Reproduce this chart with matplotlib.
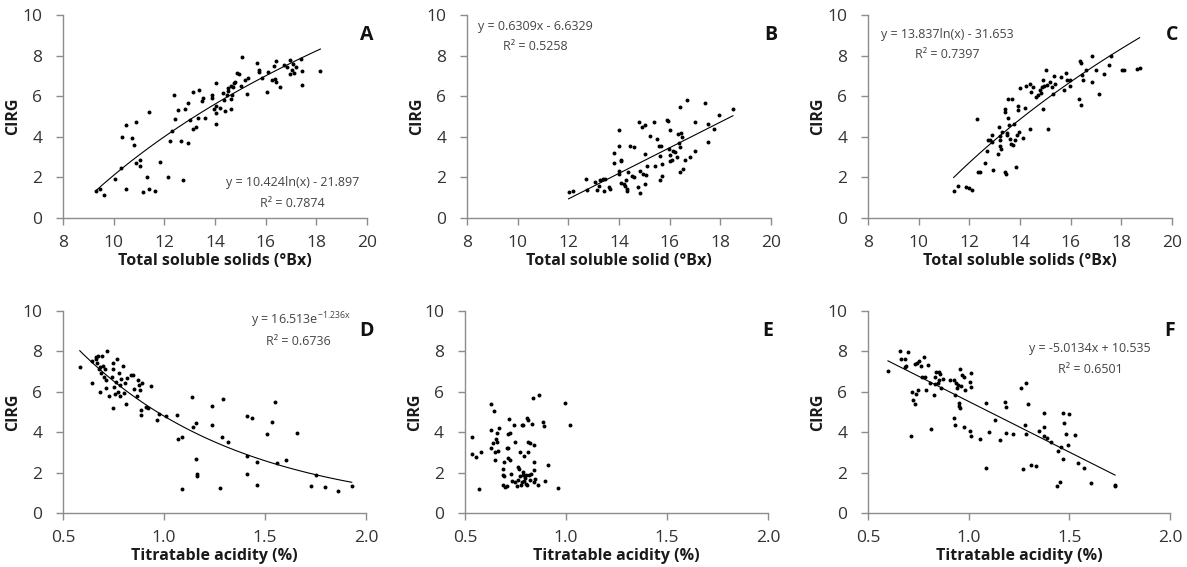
import numpy as np
import matplotlib
matplotlib.use("Agg")
import matplotlib.pyplot as plt

plt.rcParams['font.family'] = ['Open Sans', 'DejaVu Sans']
plt.rcParams['mathtext.fontset'] = 'custom'
plt.rcParams['mathtext.rm'] = 'Open Sans'
plt.rcParams['mathtext.it'] = 'Open Sans'

# ---- data ----
a_x = [9.32, 9.45, 9.62, 10.04, 10.33, 10.47, 10.47, 10.73, 10.8, 10.9, 10.9, 11.03, 11.03, 11.14,
       11.3, 11.41, 11.41, 11.64, 11.83, 12.14, 12.24, 12.29, 12.4, 12.42, 12.52, 12.66, 12.75, 12.82,
       12.92, 12.92, 13.0, 13.12, 13.12, 13.25, 13.34, 13.38, 13.47, 13.54, 13.6, 13.87, 13.87, 13.94,
       14.04, 14.04, 14.04, 14.04, 14.2, 14.33, 14.36, 14.4, 14.46, 14.53, 14.62, 14.62, 14.62, 14.7,
       14.73, 14.79, 14.86, 14.93, 15.02, 15.06, 15.19, 15.26, 15.32, 15.65, 15.74, 15.74, 15.85, 16.05,
       16.11, 16.25, 16.34, 16.38, 16.42, 16.42, 16.55, 16.73, 16.84, 16.94, 16.94, 17.04, 17.08, 17.1,
       17.2, 17.4, 17.43, 17.43, 18.16, 14.5, 14.68, 10.3]
a_y = [1.31, 1.43, 1.15, 1.93, 4.0, 4.56, 1.43, 3.93, 3.6, 4.75, 2.7, 2.87, 2.57, 1.26,
       2.0, 5.2, 1.43, 1.31, 2.74, 2.0, 3.77, 4.3, 6.07, 4.87, 5.33, 3.77, 1.89, 5.38,
       5.66, 3.69, 4.84, 6.23, 4.39, 4.5, 4.92, 6.31, 5.74, 5.93, 4.95, 6.07, 5.93, 5.36,
       6.64, 5.52, 5.16, 4.64, 5.41, 6.18, 5.82, 5.28, 6.07, 6.39, 6.51, 5.87, 5.38, 6.44,
       6.64, 6.72, 7.13, 7.1, 6.48, 7.95, 6.8, 6.11, 6.89, 7.66, 7.3, 7.21, 6.92, 6.23,
       7.21, 6.8, 7.51, 6.85, 7.74, 6.72, 6.44, 7.54, 7.46, 7.79, 7.08, 7.3, 7.57, 7.13,
       7.46, 7.82, 7.25, 6.56, 7.25, 6.25, 6.05, 2.45]

b_x = [12.01, 12.18, 12.7, 12.74, 13.07, 13.13, 13.2, 13.26, 13.36, 13.39, 13.46, 13.59, 13.63, 13.79,
       13.79, 13.99, 13.99, 13.99, 14.01, 14.08, 14.08, 14.18, 14.25, 14.29, 14.32, 14.32, 14.36, 14.42,
       14.51, 14.58, 14.61, 14.74, 14.8, 14.82, 14.84, 14.91, 14.95, 15.01, 15.01, 15.04, 15.08, 15.11,
       15.24, 15.39, 15.41, 15.5, 15.57, 15.61, 15.63, 15.66, 15.7, 15.7, 15.89, 15.93, 15.96, 16.0,
       16.03, 16.09, 16.13, 16.22, 16.29, 16.32, 16.36, 16.39, 16.42, 16.42, 16.46, 16.49, 16.53, 16.62,
       16.68, 16.82, 16.99, 16.99, 17.41, 17.5, 17.5, 17.76, 17.93, 18.5, 16.0, 14.1]
b_y = [1.27, 1.32, 1.9, 1.4, 1.76, 1.38, 1.6, 1.85, 1.9, 1.32, 1.93, 1.52, 1.43, 3.2,
       2.7, 4.32, 3.54, 2.34, 2.17, 2.87, 1.71, 1.68, 1.6, 1.85, 1.43, 1.32, 2.26, 3.57,
       2.09, 3.49, 2.01, 1.55, 4.73, 1.24, 2.31, 4.48, 2.17, 4.6, 1.68, 3.13, 2.14, 2.54,
       4.02, 4.73, 2.54, 3.9, 3.54, 1.85, 3.05, 3.53, 2.67, 2.09, 4.81, 4.78, 3.41, 3.08,
       2.83, 2.87, 3.29, 3.25, 3.03, 4.12, 3.69, 3.49, 5.47, 2.26, 4.18, 3.99, 2.42, 2.87,
       5.83, 3.03, 4.73, 3.28, 5.68, 4.65, 3.74, 4.37, 5.06, 5.39, 4.32, 2.82]

c_x = [11.38, 11.54, 11.88, 12.0, 12.1, 12.3, 12.33, 12.41, 12.63, 12.7, 12.72, 12.83, 12.89, 12.89,
       12.93, 13.12, 13.16, 13.2, 13.22, 13.22, 13.25, 13.29, 13.39, 13.39, 13.42, 13.46, 13.49, 13.49,
       13.51, 13.51, 13.55, 13.59, 13.64, 13.68, 13.72, 13.78, 13.82, 13.84, 13.88, 13.91, 13.91, 13.95,
       13.99, 14.12, 14.21, 14.25, 14.41, 14.41, 14.45, 14.51, 14.64, 14.71, 14.78, 14.83, 14.87, 14.91,
       14.91, 14.96, 15.04, 15.07, 15.09, 15.17, 15.26, 15.29, 15.33, 15.39, 15.62, 15.75, 15.83, 15.86,
       15.96, 15.96, 16.32, 16.36, 16.39, 16.42, 16.45, 16.49, 16.62, 16.84, 16.84, 17.01, 17.11, 17.3,
       17.5, 17.59, 18.03, 18.12, 18.62, 18.72]
c_y = [1.32, 1.57, 1.52, 1.47, 1.38, 4.89, 2.26, 2.29, 2.7, 3.28, 3.82, 3.82, 4.07, 3.74,
       2.37, 3.13, 4.48, 3.85, 4.02, 3.57, 3.38, 4.23, 5.39, 5.22, 2.26, 2.17, 4.18, 4.07,
       4.94, 5.88, 4.56, 3.9, 3.66, 5.88, 3.62, 4.64, 3.82, 2.5, 4.07, 5.5, 5.3, 4.23,
       6.41, 3.95, 5.44, 6.49, 4.4, 6.59, 6.21, 6.44, 5.96, 6.05, 6.29, 6.16, 6.44, 6.79,
       5.39, 6.49, 7.31, 6.54, 4.4, 6.71, 6.46, 6.13, 6.99, 6.62, 6.95, 6.33, 7.12, 6.82,
       6.82, 6.49, 5.88, 7.74, 7.64, 5.55, 7.03, 6.82, 7.28, 7.97, 6.71, 7.31, 6.1, 7.08,
       7.53, 7.97, 7.31, 7.31, 7.36, 7.41]

d_x = [0.583, 0.645, 0.645, 0.662, 0.665, 0.668, 0.673, 0.677, 0.682, 0.685, 0.69, 0.695, 0.698, 0.702,
       0.707, 0.711, 0.715, 0.72, 0.728, 0.74, 0.745, 0.745, 0.745, 0.751, 0.756, 0.764, 0.768, 0.773,
       0.777, 0.781, 0.784, 0.789, 0.797, 0.801, 0.806, 0.81, 0.819, 0.834, 0.844, 0.85, 0.864, 0.872,
       0.877, 0.883, 0.888, 0.888, 0.893, 0.913, 0.921, 0.933, 0.966, 0.976, 1.012, 1.065, 1.07, 1.09,
       1.09, 1.136, 1.141, 1.158, 1.158, 1.165, 1.165, 1.238, 1.238, 1.276, 1.285, 1.29, 1.318, 1.409,
       1.412, 1.412, 1.437, 1.458, 1.461, 1.508, 1.532, 1.549, 1.557, 1.604, 1.656, 1.726, 1.752, 1.797,
       1.863, 1.929]
d_y = [7.22, 7.53, 6.43, 7.71, 7.61, 7.41, 7.78, 7.12, 6.01, 7.22, 6.92, 7.78, 7.28, 6.75,
       7.12, 6.18, 6.59, 8.02, 5.8, 6.75, 7.45, 7.12, 5.22, 6.26, 5.9, 6.51, 7.63, 6.01,
       6.95, 6.34, 5.77, 6.62, 7.3, 5.93, 6.46, 5.39, 6.67, 6.84, 6.84, 6.13, 5.8, 6.59,
       6.34, 6.1, 4.86, 5.11, 6.43, 5.27, 5.19, 6.29, 4.58, 4.89, 4.78, 4.86, 3.66, 3.74,
       1.19, 5.72, 4.25, 4.45, 2.69, 1.94, 1.85, 5.32, 4.37, 1.24, 3.74, 5.63, 3.54, 4.81,
       2.83, 1.94, 4.7, 1.37, 2.52, 3.92, 4.53, 5.5, 2.47, 2.6, 3.95, 1.35, 1.86, 1.27,
       1.07, 1.35]

e_x = [0.533, 0.533, 0.554, 0.571, 0.577, 0.627, 0.627, 0.627, 0.64, 0.645, 0.648, 0.651, 0.656, 0.661,
       0.665, 0.668, 0.661, 0.686, 0.686, 0.69, 0.693, 0.694, 0.698, 0.706, 0.709, 0.711, 0.714, 0.714,
       0.719, 0.722, 0.725, 0.727, 0.731, 0.742, 0.747, 0.747, 0.759, 0.764, 0.764, 0.769, 0.772, 0.772,
       0.775, 0.78, 0.783, 0.785, 0.785, 0.788, 0.792, 0.792, 0.797, 0.802, 0.802, 0.805, 0.808, 0.81,
       0.81, 0.813, 0.816, 0.821, 0.821, 0.826, 0.833, 0.838, 0.841, 0.841, 0.841, 0.843, 0.846, 0.863,
       0.868, 0.887, 0.891, 0.896, 0.909, 0.96, 0.995, 1.019]
e_y = [3.76, 2.9, 2.75, 1.2, 3.0, 5.38, 4.09, 3.24, 3.46, 5.04, 3.0, 2.62, 3.66, 3.54,
       3.07, 4.21, 3.96, 2.17, 1.9, 1.4, 2.54, 1.84, 1.29, 3.21, 1.34, 3.24, 2.74, 3.91,
       4.67, 3.96, 2.62, 1.95, 1.57, 4.34, 3.51, 1.54, 1.34, 2.29, 1.62, 2.17, 3.04, 1.84,
       1.4, 1.54, 4.37, 4.34, 1.9, 2.04, 2.84, 1.57, 1.74, 1.87, 1.45, 1.37, 4.71, 3.51,
       3.0, 4.62, 1.87, 3.46, 1.62, 1.95, 4.41, 5.68, 3.37, 2.12, 2.54, 1.54, 1.7, 1.37,
       5.84, 4.51, 4.29, 1.57, 2.4, 1.25, 5.43, 4.34]

f_x = [0.599, 0.66, 0.664, 0.682, 0.682, 0.689, 0.697, 0.713, 0.718, 0.722, 0.732, 0.735, 0.74, 0.743,
       0.748, 0.755, 0.763, 0.768, 0.776, 0.785, 0.789, 0.796, 0.809, 0.813, 0.826, 0.831, 0.834, 0.838,
       0.846, 0.851, 0.854, 0.859, 0.862, 0.872, 0.908, 0.925, 0.928, 0.93, 0.933, 0.937, 0.942, 0.945,
       0.95, 0.953, 0.955, 0.958, 0.961, 0.966, 0.975, 0.978, 0.983, 1.004, 1.008, 1.01, 1.013, 1.013,
       1.057, 1.087, 1.087, 1.099, 1.132, 1.153, 1.178, 1.186, 1.186, 1.219, 1.259, 1.272, 1.28, 1.284,
       1.284, 1.294, 1.309, 1.335, 1.351, 1.372, 1.375, 1.375, 1.391, 1.41, 1.467, 1.474, 1.484, 1.441,
       1.446, 1.454, 1.457, 1.47, 1.495, 1.5, 1.529, 1.542, 1.575, 1.606, 1.727, 1.727]
f_y = [7.05, 8.04, 7.63, 7.63, 7.22, 7.28, 7.96, 3.82, 5.98, 5.57, 7.36, 5.39, 5.88, 7.41,
       6.1, 7.53, 7.28, 6.71, 7.74, 6.71, 6.1, 7.33, 6.43, 4.17, 5.85, 6.75, 6.38, 7.0,
       6.43, 7.0, 6.59, 6.87, 6.18, 6.62, 6.59, 4.7, 6.59, 4.37, 5.85, 6.43, 6.18, 6.34,
       5.44, 5.3, 5.19, 7.12, 6.29, 6.84, 4.25, 6.75, 6.1, 6.51, 4.04, 6.95, 6.26, 3.79,
       3.66, 5.44, 2.22, 4.0, 4.58, 3.59, 5.52, 5.27, 3.95, 3.9, 6.18, 2.17, 4.37, 6.46,
       3.9, 5.39, 2.36, 2.31, 4.04, 3.82, 4.94, 4.28, 3.71, 3.54, 4.94, 4.45, 3.92, 1.32,
       3.08, 1.53, 3.29, 2.69, 3.38, 4.89, 3.87, 2.47, 2.22, 1.48, 1.4, 1.32]

tss_ticks = [8, 10, 12, 14, 16, 18, 20]
ta_ticks = [0.5, 1.0, 1.5, 2.0]
ta_labels = ['0.5', '1.0', '1.5', '2.0']
y_ticks = [0, 2, 4, 6, 8, 10]

fig = plt.figure(figsize=(11.87, 5.67), dpi=100)

grey = '#8c8c8c'
txt = '#333333'
eq = '#444444'


def panel(rect, xs, ys, letter, xlabel, xticks, xlabels, xlim):
    ax = fig.add_axes(rect)
    ax.scatter(xs, ys, s=8, c='black', linewidths=0, zorder=3)
    ax.set_xlim(*xlim)
    ax.set_ylim(0, 10)
    ax.set_xticks(xticks)
    ax.set_xticklabels(xlabels)
    ax.set_yticks(y_ticks)
    for s in ['top', 'right']:
        ax.spines[s].set_visible(False)
    for s in ['left', 'bottom']:
        ax.spines[s].set_color(grey)
        ax.spines[s].set_linewidth(1.0)
    ax.tick_params(direction='out', length=5, width=1.0, color=grey,
                   labelsize=12.5, labelcolor=txt)
    ax.tick_params(axis='x', pad=7.5)
    ax.tick_params(axis='y', pad=10)
    ax.set_xlabel(xlabel, fontsize=11.5, fontweight='bold', color='#1a1a1a', labelpad=1.5)
    ax.set_ylabel('CIRG', fontsize=11.5, fontweight='bold', color='#1a1a1a', labelpad=1)
    ax.text(1.0, 0.9, letter, transform=ax.transAxes, fontsize=14, fontweight='bold',
            ha='center', va='center', color='#111111')
    return ax


tss_lab = [str(t) for t in tss_ticks]

# A
ax = panel([0.0531, 0.6155, 0.2561, 0.358], a_x, a_y, 'A',
           'Total soluble solids (°Bx)', tss_ticks, tss_lab, (8, 20))
xx = np.linspace(min(a_x), max(a_x), 100)
ax.plot(xx, 10.424 * np.log(xx) - 21.897, color='black', lw=0.8)
ax.text(0.755, 0.175, 'y = 10.424ln(x) - 21.897', transform=ax.transAxes, fontsize=9,
        ha='center', va='center', color=eq)
ax.text(0.755, 0.072, 'R² = 0.7874', transform=ax.transAxes, fontsize=9,
        ha='center', va='center', color=eq)

# B
ax = panel([0.3934, 0.6155, 0.2561, 0.358], b_x, b_y, 'B',
           'Total soluble solid (°Bx)', tss_ticks, tss_lab, (8, 20))
xx = np.linspace(min(b_x), max(b_x), 100)
ax.plot(xx, 0.6309 * xx - 6.6329, color='black', lw=0.8)
ax.text(0.225, 0.945, 'y = 0.6309x - 6.6329', transform=ax.transAxes, fontsize=9,
        ha='center', va='center', color=eq)
ax.text(0.225, 0.845, 'R² = 0.5258', transform=ax.transAxes, fontsize=9,
        ha='center', va='center', color=eq)

# C
ax = panel([0.7313, 0.6155, 0.2561, 0.358], c_x, c_y, 'C',
           'Total soluble solids (°Bx)', tss_ticks, tss_lab, (8, 20))
xx = np.linspace(min(c_x), max(c_x), 100)
ax.plot(xx, 13.837 * np.log(xx) - 31.653, color='black', lw=0.8)
ax.text(0.26, 0.905, 'y = 13.837ln(x) - 31.653', transform=ax.transAxes, fontsize=9,
        ha='center', va='center', color=eq)
ax.text(0.26, 0.805, 'R² = 0.7397', transform=ax.transAxes, fontsize=9,
        ha='center', va='center', color=eq)

# D
ax = panel([0.0531, 0.0952, 0.2553, 0.3563], d_x, d_y, 'D',
           'Titratable acidity (%)', ta_ticks, ta_labels, (0.5, 2.0))
xx = np.linspace(min(d_x), max(d_x), 100)
ax.plot(xx, 16.513 * np.exp(-1.236 * xx), color='black', lw=0.8)
ax.text(0.785, 0.955, 'y = 16.513e$^{-1.236x}$', transform=ax.transAxes, fontsize=9,
        ha='center', va='center', color=eq)
ax.text(0.775, 0.85, 'R² = 0.6736', transform=ax.transAxes, fontsize=9,
        ha='center', va='center', color=eq)

# E
ax = panel([0.3917, 0.0952, 0.2553, 0.3563], e_x, e_y, 'E',
           'Titratable acidity (%)', ta_ticks, ta_labels, (0.5, 2.0))

# F
ax = panel([0.7313, 0.0952, 0.2544, 0.3563], f_x, f_y, 'F',
           'Titratable acidity (%)', ta_ticks, ta_labels, (0.5, 2.0))
xx = np.linspace(min(f_x), max(f_x), 100)
ax.plot(xx, -5.0134 * xx + 10.535, color='black', lw=0.8)
ax.text(0.735, 0.815, 'y = -5.0134x + 10.535', transform=ax.transAxes, fontsize=9,
        ha='center', va='center', color=eq)
ax.text(0.735, 0.71, 'R² = 0.6501', transform=ax.transAxes, fontsize=9,
        ha='center', va='center', color=eq)

fig.savefig('out.png', dpi=100)
